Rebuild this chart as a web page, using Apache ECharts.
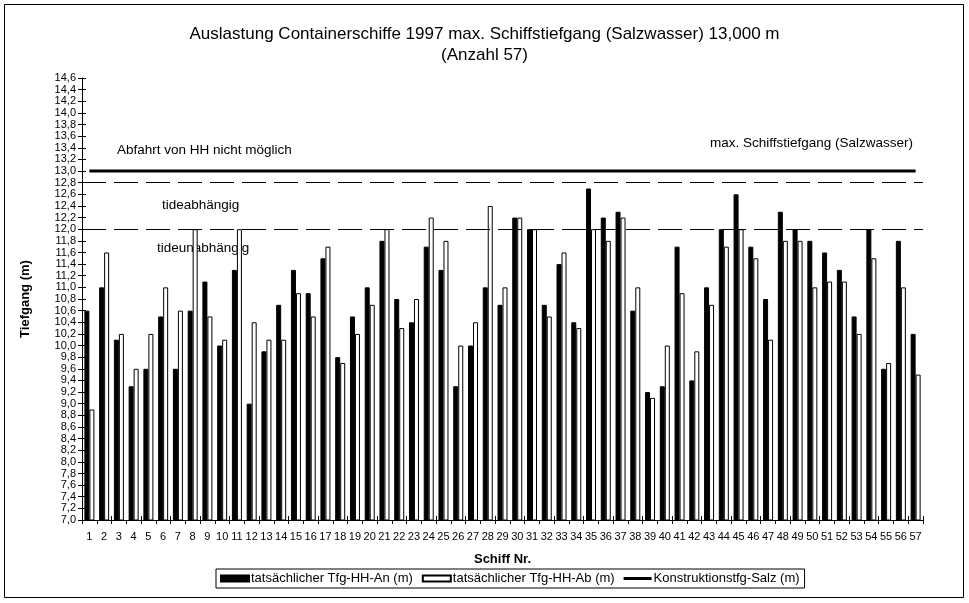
<!DOCTYPE html>
<html>
<head>
<meta charset="utf-8">
<script src="https://cdn.jsdelivr.net/npm/echarts@6/dist/echarts.min.js"></script>
<style>html,body{margin:0;padding:0;background:#fff;}#c{width:969px;height:603px;}</style>
</head>
<body>
<div id="c"></div>
<script>
const ships = [];
for (let i = 1; i <= 57; i++) ships.push(String(i));
const tfgAn = [10.6,11.0,10.1,9.3,9.6,10.5,9.6,10.6,11.1,10.0,11.3,9.0,9.9,10.7,11.3,10.9,11.5,9.8,10.5,11.0,11.8,10.8,10.4,11.7,11.3,9.3,10.0,11.0,10.7,12.2,12.0,10.7,11.4,10.4,12.7,12.2,12.3,10.6,9.2,9.3,11.7,9.4,11.0,12.0,12.6,11.7,10.8,12.3,12.0,11.8,11.6,11.3,10.5,12.0,9.6,11.8,10.2];
const tfgAb = [8.9,11.6,10.2,9.6,10.2,11.0,10.6,12.0,10.5,10.1,12.0,10.4,10.1,10.1,10.9,10.5,11.7,9.7,10.2,10.7,12.0,10.3,10.8,12.2,11.8,10.0,10.4,12.4,11.0,12.2,12.0,10.5,11.6,10.3,12.0,11.8,12.2,11.0,9.1,10.0,10.9,9.9,10.7,11.7,12.0,11.5,10.1,11.8,11.8,11.0,11.1,11.1,10.2,11.5,9.7,11.0,9.5];
const konstr = ships.map(() => 13.0);
const yMin = 7.0, yMax = 14.6, yStep = 0.2;
const levelTide = 12.8, levelTideFree = 12.0;

const font = 'Liberation Sans, Arial, sans-serif';
const chart = echarts.init(document.getElementById('c'), null, {renderer: 'canvas'});
const yFmt = v => v.toFixed(1).replace('.', ',');
chart.setOption({
  animation: false,
  backgroundColor: '#fff',
  textStyle: {fontFamily: font, color: '#000'},
  title: {
    text: 'Auslastung Containerschiffe 1997 max. Schiffstiefgang (Salzwasser) 13,000 m\n(Anzahl 57)',
    left: 'center', top: 19,
    textStyle: {fontSize: 17, fontWeight: 'normal', lineHeight: 21, fontFamily: font, color: '#000'}
  },
  grid: {left: 82, right: 46, top: 78, bottom: 83, containLabel: false},
  xAxis: [{
    type: 'category', data: ships, position: 'bottom',
    name: 'Schiff Nr.', nameLocation: 'middle', nameGap: 33,
    nameTextStyle: {fontSize: 13, fontWeight: 'bold', color: '#000'},
    axisLine: {lineStyle: {color: '#000', width: 1}},
    axisTick: {show: true, length: 4, lineStyle: {color: '#000'}},
    axisLabel: {interval: 0, fontSize: 11, color: '#000', margin: 11},
    splitLine: {show: false}
  }, {
    type: 'category', data: ships, position: 'bottom',
    axisLine: {show: false},
    axisTick: {show: true, inside: true, length: 4, lineStyle: {color: '#000'}},
    axisLabel: {show: false}, splitLine: {show: false}
  }],
  yAxis: [{
    type: 'value', min: yMin, max: yMax, interval: yStep,
    name: 'Tiefgang (m)', nameLocation: 'middle', nameGap: 50,
    nameTextStyle: {fontSize: 13, fontWeight: 'bold', color: '#000'},
    axisLine: {show: true, lineStyle: {color: '#000', width: 1}},
    axisTick: {show: true, length: 4, lineStyle: {color: '#000'}},
    axisLabel: {formatter: yFmt, fontSize: 11, color: '#000', margin: 6},
    splitLine: {show: false}
  }, {
    type: 'value', min: yMin, max: yMax, interval: yStep, position: 'left',
    axisLine: {show: false},
    axisTick: {show: true, inside: true, length: 4, lineStyle: {color: '#000'}},
    axisLabel: {show: false}, splitLine: {show: false}
  }],
  legend: {
    left: 216, top: 569,
    borderColor: '#000', borderWidth: 1, padding: [3, 5, 3, 4],
    itemWidth: 28, itemHeight: 6, itemGap: 9,
    textStyle: {fontSize: 13, color: '#000', fontFamily: font, padding: [0, 0, 0, -3]},
    data: [
      {name: 'tatsächlicher Tfg-HH-An (m)', icon: 'rect'},
      {name: 'tatsächlicher Tfg-HH-Ab (m)', icon: 'rect'},
      {name: 'Konstruktionstfg-Salz (m)', icon: 'path://M0,0H28V3H0Z', itemStyle: {color: '#000'}}
    ]
  },
  series: [{
    name: 'tatsächlicher Tfg-HH-An (m)', type: 'bar', data: tfgAn,
    barWidth: 5, barGap: '0%',
    itemStyle: {color: '#000', borderColor: '#000', borderWidth: 1},
    markLine: {
      silent: true, symbol: 'none', label: {show: false},
      lineStyle: {color: '#000', width: 1, type: [24, 8]},
      data: [{yAxis: levelTide}, {yAxis: levelTideFree}]
    }
  }, {
    name: 'tatsächlicher Tfg-HH-Ab (m)', type: 'bar', data: tfgAb,
    barWidth: 5, barGap: '0%',
    itemStyle: {color: '#fff', borderColor: '#000', borderWidth: 1}
  }, {
    name: 'Konstruktionstfg-Salz (m)', type: 'line', data: konstr,
    symbol: 'none', lineStyle: {color: '#000', width: 3}, itemStyle: {color: '#000'}
  }],
  graphic: [
    {type: 'rect', shape: {x: 4.5, y: 4.5, width: 959, height: 593}, style: {fill: null, stroke: '#000', lineWidth: 1}, silent: true},
    {type: 'text', left: 117, top: 143, style: {text: 'Abfahrt von HH nicht möglich', font: '13.5px ' + font, fill: '#000'}},
    {type: 'text', left: 710, top: 136, style: {text: 'max. Schiffstiefgang (Salzwasser)', font: '13.5px ' + font, fill: '#000'}},
    {type: 'text', left: 162, top: 198, style: {text: 'tideabhängig', font: '13.5px ' + font, fill: '#000'}},
    {type: 'text', left: 157, top: 241, style: {text: 'tideunabhängig', font: '13.5px ' + font, fill: '#000'}}
  ]
});
</script>
</body>
</html>
